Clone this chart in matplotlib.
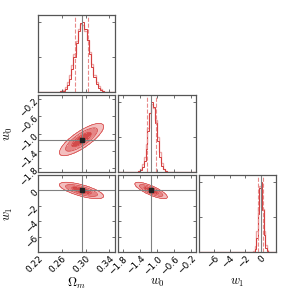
import numpy as np
import matplotlib
matplotlib.use("Agg")
import matplotlib.pyplot as plt

plt.rcParams['mathtext.fontset'] = 'cm'

# parameter names, plot ranges and true values
labels = [r'$\Omega_m$', r'$w_0$', r'$w_1$']
ranges = [(0.22, 0.35), (-1.9, -0.1), (-8.0, 2.0)]
truths = [0.293, -1.14, 0.0]
xticks = [[0.22, 0.26, 0.30, 0.34],
          [-1.8, -1.4, -1.0, -0.6, -0.2],
          [-6, -4, -2, 0]]

# 16/84 percent quantiles (dashed lines)
q_om = [0.2826, 0.3040]
q_w0 = [-1.24, -1.03]
q_w1 = [-0.30, 0.35]

# gaussian posterior
sigmas = [0.0108, 0.110, 0.31]
corr = [[1.0, 0.8, -0.7],
        [0.8, 1.0, -0.8],
        [-0.7, -0.8, 1.0]]

# 1d histograms (normalised counts), red and light runs
h_om = [0, 0, 0, 0, 0, 0, 0, 0, 0, 0, 0.01, 0.02, 0.05, 0.10, 0.19, 0.33,
        0.50, 0.70, 0.87, 0.99, 1.0, 0.90, 0.74, 0.55, 0.36, 0.21, 0.12,
        0.06, 0.03, 0.01, 0, 0, 0, 0, 0]
h_om2 = [0, 0, 0, 0, 0, 0, 0, 0, 0, 0, 0.01, 0.03, 0.07, 0.14, 0.24, 0.38,
         0.55, 0.73, 0.90, 0.97, 0.96, 0.88, 0.74, 0.57, 0.40, 0.25, 0.15,
         0.08, 0.04, 0.02, 0, 0, 0, 0, 0]
h_w0 = [0, 0, 0, 0, 0, 0, 0, 0, 0, 0, 0.01, 0.03, 0.07, 0.16, 0.33, 0.58,
        0.84, 1.0, 0.93, 0.70, 0.44, 0.22, 0.09, 0.04, 0.01, 0, 0, 0, 0, 0,
        0, 0, 0, 0, 0, 0, 0, 0, 0, 0]
h_w02 = [0, 0, 0, 0, 0, 0, 0, 0, 0, 0, 0.02, 0.05, 0.11, 0.22, 0.40, 0.63,
         0.85, 0.97, 0.92, 0.74, 0.50, 0.28, 0.13, 0.05, 0.02, 0, 0, 0, 0, 0,
         0, 0, 0, 0, 0, 0, 0, 0, 0, 0]
h_w1 = [0] * 36 + [0.05, 0.20, 0.55, 0.92, 1.0, 0.60, 0.25, 0.06, 0.01] + [0] * 5
h_w12 = [0] * 35 + [0.02, 0.09, 0.30, 0.65, 0.95, 0.90, 0.62, 0.30, 0.10,
                    0.03] + [0] * 5

hists = [(h_om, h_om2, q_om), (h_w0, h_w02, q_w0), (h_w1, h_w12, q_w1)]

red = '#d43c3c'
pink = '#eca3a3'
dash = '#e88a8a'
fills = ['#d24a4a', '#e58585', '#f3bfbf']
frame = '#555555'
truthc = '#808080'

fig, axes = plt.subplots(3, 3, figsize=(2.91, 2.91), dpi=100)
fig.subplots_adjust(left=0.131, right=0.949, bottom=0.134, top=0.948,
                    wspace=0.04, hspace=0.04)

cov = np.array(corr) * np.outer(sigmas, sigmas)

for i in range(3):
    for j in range(3):
        ax = axes[i, j]
        if j > i:
            ax.axis('off')
            continue
        for s in ax.spines.values():
            s.set_color(frame)
            s.set_linewidth(0.9)
        ax.tick_params(direction='in', top=True, right=True, length=2.5,
                       width=0.6, color=frame, labelsize=6.5, pad=1.5)
        ax.set_xlim(ranges[j])
        ax.set_xticks(xticks[j])
        if i == j:
            h1, h2, q = hists[i]
            edges = np.linspace(ranges[i][0], ranges[i][1], len(h1) + 1)
            ax.stairs(h2, edges, color=pink, lw=1.0)
            ax.stairs(h1, edges, color=red, lw=0.7)
            for v in q:
                ax.axvline(v, color=dash, ls='--', lw=0.8)
            ax.axvline(truths[i], color=truthc, lw=0.8)
            ax.set_ylim(0, 1.1)
            ax.set_yticklabels([])
        else:
            ax.set_ylim(ranges[i])
            ax.set_yticks(xticks[i])
            x = np.linspace(ranges[j][0], ranges[j][1], 300)
            y = np.linspace(ranges[i][0], ranges[i][1], 300)
            X, Y = np.meshgrid(x, y)
            c = np.array([[cov[j, j], cov[j, i]], [cov[i, j], cov[i, i]]])
            ci = np.linalg.inv(c)
            dx = X - truths[j]
            dy = Y - truths[i]
            d2 = ci[0, 0] * dx ** 2 + 2 * ci[0, 1] * dx * dy + ci[1, 1] * dy ** 2
            ax.contourf(X, Y, d2, levels=[0, 2.30, 6.18, 11.8], colors=fills)
            ax.contour(X, Y, d2, levels=[2.30, 6.18, 11.8], colors=red,
                       linewidths=0.5)
            ax.axvline(truths[j], color=truthc, lw=0.8)
            ax.axhline(truths[i], color=truthc, lw=0.8)
            ax.plot(truths[j], truths[i], 's', color='#222222', ms=3.5)
        if i < 2:
            ax.set_xticklabels([])
        else:
            for t in ax.get_xticklabels():
                t.set_rotation(45)
                t.set_ha('right')
                t.set_rotation_mode('anchor')
            ax.set_xlabel(labels[j], fontsize=9)
            ax.xaxis.set_label_coords(0.5, -0.31)
        if j > 0:
            ax.set_yticklabels([])
        elif i > 0:
            for t in ax.get_yticklabels():
                t.set_rotation(45)
                t.set_ha('right')
                t.set_rotation_mode('anchor')
            ax.set_ylabel(labels[i], fontsize=9)
            ax.yaxis.set_label_coords(-0.3, 0.5)

fig.savefig('out.png', dpi=100)
